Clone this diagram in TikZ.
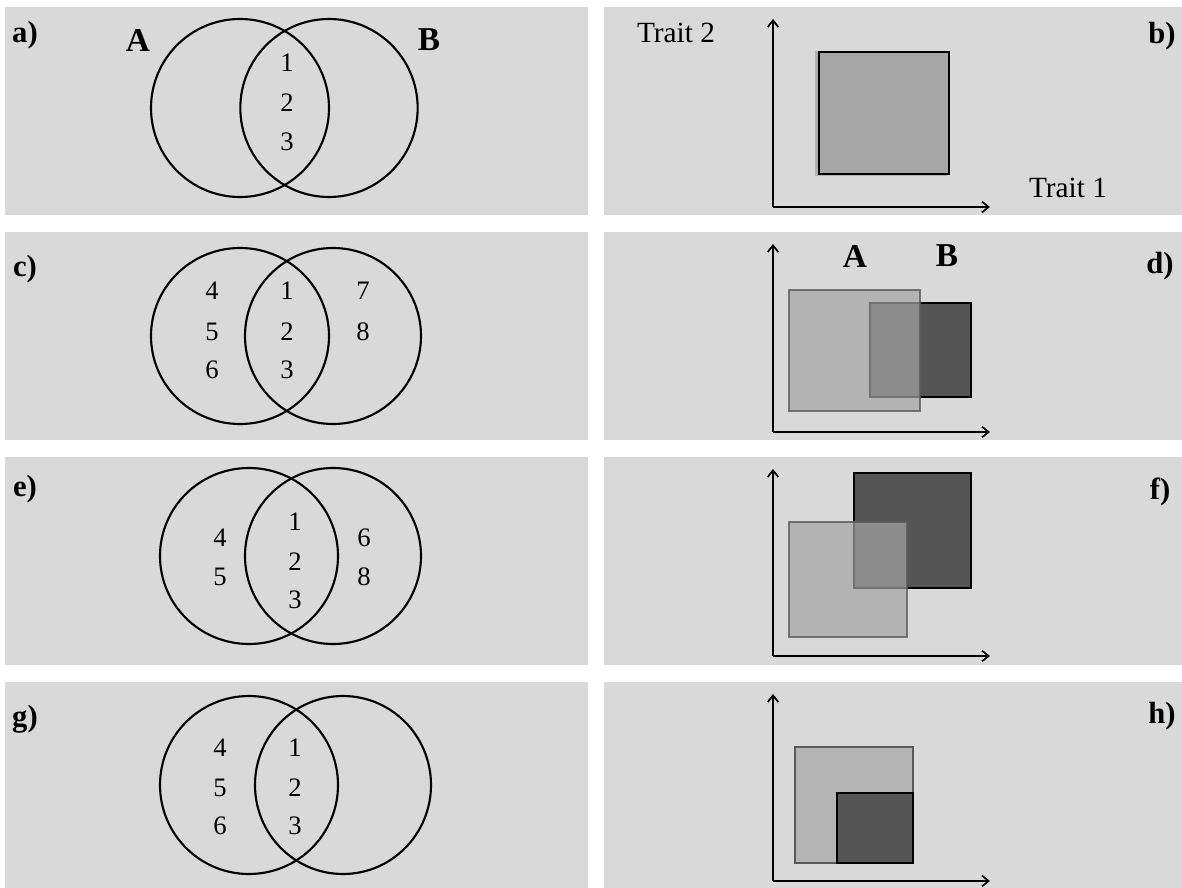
\documentclass[tikz,border=0pt]{standalone}
\usepackage{fontspec}
\setmainfont{Liberation Serif}
\usetikzlibrary{arrows.meta}
\definecolor{panelbg}{HTML}{D9D9D9}
\definecolor{boxb}{HTML}{A6A6A6}
\definecolor{lightA}{HTML}{A4A4A4}
\definecolor{solidA}{HTML}{B4B4B4}
\definecolor{darkB}{HTML}{555555}
\definecolor{edgeA}{HTML}{5A5A5A}
\tikzset{
  panel/.style={fill=panelbg, draw=none},
  venn/.style={draw=black, line width=1.6pt},
  num/.style={inner sep=0pt, font=\fontsize{20}{20}\selectfont},
  lbl/.style={inner sep=0pt, font=\fontsize{23}{23}\selectfont\bfseries},
  setlbl/.style={inner sep=0pt, font=\fontsize{25}{25}\selectfont\bfseries},
  trait/.style={inner sep=0pt, font=\fontsize{22}{22}\selectfont},
  axis/.style={line width=1.5pt, -{Straight Barb[length=5pt,width=8pt,line width=1.3pt]}},
  boxA/.style={fill=lightA, fill opacity=0.7, draw=edgeA, draw opacity=0.8, line width=1.2pt},
  boxAsolid/.style={fill=solidA, draw=edgeA, line width=1.2pt},
  boxB/.style={fill=darkB, draw=black, line width=1.5pt},
}
\begin{document}
\begin{tikzpicture}[x=0.75pt,y=-0.75pt]
\useasboundingbox (0,0) rectangle (1182,888);
% panels
\fill[panel] (5,7) rectangle (588,215);
\fill[panel] (604,7) rectangle (1182,215);
\fill[panel] (5,232) rectangle (588,440);
\fill[panel] (604,232) rectangle (1182,440);
\fill[panel] (5,457) rectangle (588,665);
\fill[panel] (604,457) rectangle (1182,665);
\fill[panel] (5,682) rectangle (588,888);
\fill[panel] (604,682) rectangle (1182,888);

% ---------- a) ----------
\draw[venn] (240,108) ellipse [x radius=66.75pt, y radius=66.75pt];
\draw[venn] (329,108) ellipse [x radius=66.5pt, y radius=66.75pt];
\node[lbl] (la) at (25,35) {a)};
\node[setlbl] (aA) at (138,40) {A};
\node[setlbl] (aB) at (429,40) {B};
\node[num] (a1) at (287,63) {1};
\node[num] (a2) at (287,103) {2};
\node[num] (a3) at (287,142) {3};

% ---------- b) ----------
\coordinate (bo) at (773,207);
\coordinate (by) at (773,19);
\coordinate (bx) at (990,207);
\draw[axis] (bo) -- (by);
\draw[axis] (bo) -- (bx);
\draw[fill=boxb, draw=gray!60, line width=1pt] (816,52) rectangle (946,175);
\draw[fill=boxb, draw=black, line width=2.2pt] (819,52) rectangle (949,174);
\node[trait] (t2) at (676,33) {Trait 2};
\node[trait] (t1) at (1068,188) {Trait 1};
\node[lbl] (lb) at (1162,36) {b)};

% ---------- c) ----------
\draw[venn] (240,336) ellipse [x radius=66.75pt, y radius=66pt];
\draw[venn] (333,336) ellipse [x radius=66pt, y radius=66pt];
\node[lbl] (lc) at (25,269) {c)};
\node[num] (c4) at (212,291) {4};
\node[num] (c5) at (212,332) {5};
\node[num] (c6) at (212,370) {6};
\node[num] (c1) at (287,291) {1};
\node[num] (c2) at (287,332) {2};
\node[num] (c3) at (287,370) {3};
\node[num] (c7) at (363,291) {7};
\node[num] (c8) at (363,332) {8};

% ---------- d) ----------
\coordinate (do) at (773,432);
\coordinate (dy) at (773,244);
\coordinate (dx) at (990,432);
\draw[axis] (do) -- (dy);
\draw[axis] (do) -- (dx);
\draw[boxB] (870,303) rectangle (971,397);
\draw[boxA] (789,290) rectangle (920,411);
\node[setlbl] (dA) at (855,256) {A};
\node[setlbl] (dB) at (947,256) {B};
\node[lbl] (ld) at (1160,266) {d)};

% ---------- e) ----------
\draw[venn] (249,556) ellipse [x radius=66.75pt, y radius=66pt];
\draw[venn] (333,556) ellipse [x radius=66pt, y radius=66pt];
\node[lbl] (le) at (25,489) {e)};
\node[num] (e4) at (220,538) {4};
\node[num] (e5) at (220,577) {5};
\node[num] (e1) at (295,522) {1};
\node[num] (e2) at (295,562) {2};
\node[num] (e3) at (295,600) {3};
\node[num] (e6) at (364,538) {6};
\node[num] (e8) at (364,577) {8};

% ---------- f) ----------
\coordinate (fo) at (773,656);
\coordinate (fy) at (773,469);
\coordinate (fx) at (990,656);
\draw[axis] (fo) -- (fy);
\draw[axis] (fo) -- (fx);
\draw[boxB] (854,473) rectangle (971,588);
\draw[boxA] (789,522) rectangle (907,637);
\node[lbl] (lf) at (1160,492) {f)};

% ---------- g) ----------
\draw[venn] (249,785) ellipse [x radius=66.75pt, y radius=66.75pt];
\draw[venn] (343,785) ellipse [x radius=66pt, y radius=66.75pt];
\node[lbl] (lg) at (25,719) {g)};
\node[num] (g4) at (220,748) {4};
\node[num] (g5) at (220,788) {5};
\node[num] (g6) at (220,826) {6};
\node[num] (g1) at (295,748) {1};
\node[num] (g2) at (295,788) {2};
\node[num] (g3) at (295,826) {3};

% ---------- h) ----------
\coordinate (ho) at (773,881);
\coordinate (hy) at (773,694);
\coordinate (hx) at (990,881);
\draw[axis] (ho) -- (hy);
\draw[axis] (ho) -- (hx);
\draw[boxAsolid] (795,747) rectangle (913,863);
\draw[boxB] (837,793) rectangle (913,863);
\node[lbl] (lh) at (1162,716) {h)};
\end{tikzpicture}
\end{document}
